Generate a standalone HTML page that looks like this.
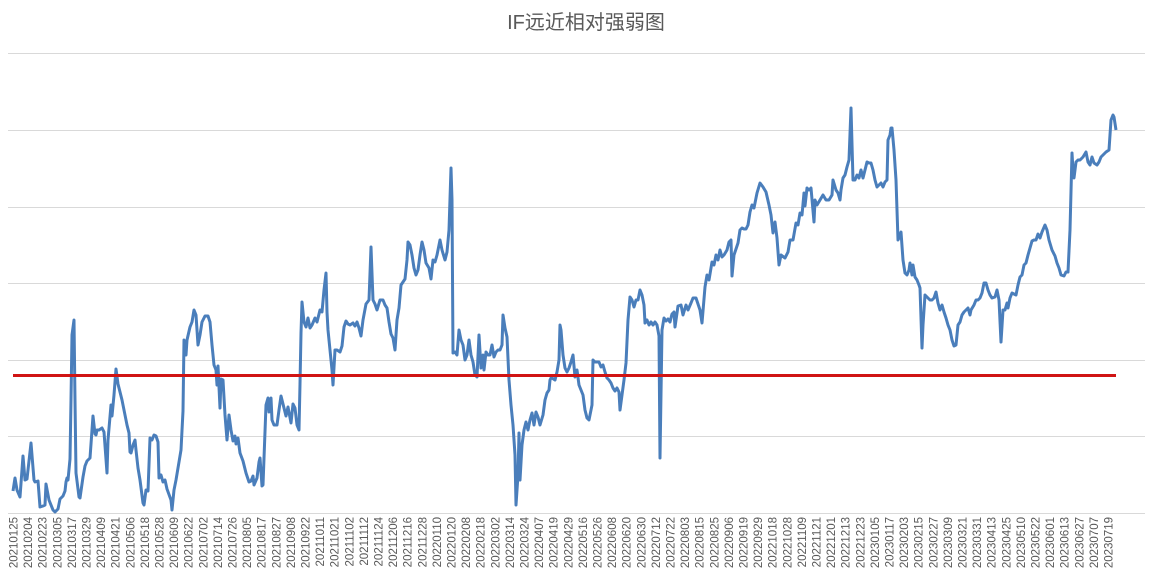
<!DOCTYPE html>
<html><head><meta charset="utf-8"><style>
html,body{margin:0;padding:0;background:#fff;}
svg{display:block;}
</style></head><body>
<svg width="1149" height="579" viewBox="0 0 1149 579" xmlns="http://www.w3.org/2000/svg">
<rect width="1149" height="579" fill="#fff"/>
<text x="586" y="29" text-anchor="middle" font-family="Liberation Sans, Noto Sans CJK SC, sans-serif" font-size="20" fill="#595959">IF远近相对强弱图</text>
<g stroke="#d9d9d9" stroke-width="1">
<line x1="8" y1="53.5" x2="1145" y2="53.5"/>
<line x1="8" y1="130.5" x2="1145" y2="130.5"/>
<line x1="8" y1="207.5" x2="1145" y2="207.5"/>
<line x1="8" y1="283.5" x2="1145" y2="283.5"/>
<line x1="8" y1="360.5" x2="1145" y2="360.5"/>
<line x1="8" y1="436.5" x2="1145" y2="436.5"/>
<line x1="8" y1="513.5" x2="1145" y2="513.5"/>
</g>
<polyline fill="none" stroke="#4a7ebb" stroke-width="3" stroke-linejoin="round" points="13,491 15,478 17,490 20,497 23,456 25,480 27,479 31,443 34,480 35,482 38,481 40,507 43,506 45,505 46,484 49,500 53,510 55,512 58,509 60,499 63,496 65,491 66,482 67,478 68,480 70,459 71,400 72,335 74,320 75,400 76,473 79,497 80,498 83,477 85,466 87,461 90,458 93,416 95,434 96,435 97,430 99,430 102,428 104,432 107,473 108,440 111,405 112,416 114,395 116,369 118,384 122,400 124,410 127,425 129,433 130,452 131,453 133,445 135,440 136,450 138,468 140,480 143,503 144,505 146,490 148,491 150,438 152,440 154,435 156,436 158,442 159,478 161,475 163,482 165,480 167,489 171,500 172,510 174,490 176,480 179,462 181,450 183,411 184,340 186,355 187,340 190,327 192,322 194,310 196,315 198,345 200,335 202,322 205,316 208,316 210,322 212,345 214,365 216,370 217,385 218,366 219,387 220,408 221,379 223,380 225,415 227,440 229,415 231,430 233,441 235,436 236,444 238,438 240,453 243,461 246,473 249,482 251,481 253,476 254,485 257,478 259,462 260,458 262,486 263,485 266,405 268,398 269,412 271,398 272,420 274,425 277,425 279,410 281,396 283,404 286,416 288,407 291,423 293,404 295,408 297,425 299,430 300,384 301,333 302,302 304,322 306,327 308,318 310,328 312,325 315,318 317,322 320,310 322,312 324,290 326,273 327,312 328,330 330,350 332,370 333,385 335,350 337,350 340,352 342,346 344,327 346,321 348,324 350,325 353,323 355,326 357,322 359,328 361,336 363,320 366,304 369,300 371,247 373,300 375,304 377,310 380,300 383,300 385,305 387,308 389,322 391,334 393,338 395,350 397,320 399,308 401,285 403,282 405,279 407,260 408,242 410,245 412,255 414,268 416,275 418,270 420,255 422,242 424,250 426,263 429,268 431,279 433,260 435,262 437,255 440,240 442,250 445,260 447,252 449,230 451,168 452,200 453,353 455,352 457,355 459,330 461,340 463,345 465,360 467,355 469,340 471,355 473,362 475,375 477,377 479,335 481,368 483,355 484,370 486,352 488,355 490,355 492,345 494,357 496,352 498,350 500,350 502,345 503,315 505,328 507,337 509,380 511,405 513,425 515,455 516,505 518,475 519,433 520,480 522,445 524,430 526,422 528,430 530,420 532,413 534,425 536,412 538,417 540,425 543,415 545,400 547,393 549,390 550,380 551,378 552,378 555,380 557,372 559,360 560,325 561,330 563,355 565,368 567,372 569,368 571,362 573,355 575,377 577,370 579,385 581,390 583,395 585,410 587,418 589,420 592,405 593,360 595,362 597,362 599,362 601,367 603,365 605,372 607,378 609,380 611,383 613,388 615,391 617,388 619,392 620,410 622,395 624,380 626,363 628,320 630,297 632,300 634,307 636,300 638,300 640,290 642,295 644,305 645,323 647,320 649,325 651,322 653,325 655,322 657,325 659,336 660,458 662,330 664,318 666,321 668,319 670,322 672,314 674,312 675,327 678,306 681,305 683,315 686,305 688,310 691,303 693,298 696,298 700,310 702,323 705,287 707,275 709,280 712,262 714,265 716,255 718,260 720,250 722,257 724,255 727,250 729,242 731,240 732,276 734,255 738,243 740,230 742,228 744,229 746,229 748,225 750,212 752,205 754,208 757,193 760,183 763,187 766,192 769,205 771,215 773,233 775,222 777,238 779,265 781,255 785,258 788,252 790,240 793,240 796,223 798,225 800,213 802,215 804,193 805,206 807,188 809,190 811,188 814,222 815,200 817,205 820,200 823,195 826,200 829,200 832,195 833,180 836,190 838,193 840,200 841,190 843,178 845,175 847,167 849,160 851,108 853,180 855,180 857,175 859,178 861,170 863,178 865,170 867,162 869,163 871,163 873,170 875,180 877,187 879,185 881,183 883,187 885,182 887,180 888,140 890,135 891,128 892,128 894,150 896,180 898,240 899,238 901,232 903,260 905,273 907,275 909,270 910,263 912,275 913,265 915,277 917,280 919,285 920,288 922,348 923,325 925,295 927,297 930,300 932,300 934,298 936,292 938,303 940,310 942,305 944,312 946,318 948,325 950,330 952,340 954,346 956,345 958,325 960,322 962,315 964,312 966,310 968,308 970,315 971,310 974,305 976,300 978,300 980,298 982,293 984,283 986,283 988,290 990,295 992,298 995,297 997,290 999,300 1001,342 1003,310 1005,310 1007,303 1008,308 1010,298 1012,293 1014,294 1016,295 1018,285 1020,277 1022,275 1024,265 1026,263 1028,255 1030,248 1032,241 1034,240 1036,240 1038,234 1040,238 1042,232 1045,225 1047,230 1049,240 1052,250 1055,256 1057,263 1059,268 1061,275 1064,276 1066,272 1068,272 1070,230 1072,153 1073,170 1074,178 1076,162 1078,160 1080,160 1083,157 1086,152 1088,162 1090,165 1092,157 1094,163 1097,165 1099,162 1101,157 1103,155 1106,152 1109,150 1111,120 1113,115 1114,117 1116,130"/>
<line x1="13" y1="375.5" x2="1116" y2="375.5" stroke="#d01414" stroke-width="3"/>
<g id="lbl" font-family="Liberation Sans, sans-serif" font-size="11.5" fill="#595959" text-anchor="end"></g>
</svg>
<script>
var d="20210125 20210204 20210223 20210305 20210317 20210329 20210409 20210421 20210506 20210518 20210528 20210609 20210622 20210702 20210714 20210726 20210805 20210817 20210827 20210908 20210922 20211011 20211021 20211102 20211112 20211124 20211206 20211216 20211228 20220110 20220120 20220208 20220218 20220302 20220314 20220324 20220407 20220419 20220429 20220516 20220526 20220608 20220620 20220630 20220712 20220722 20220803 20220815 20220825 20220906 20220919 20220929 20221018 20221028 20221109 20221121 20221201 20221213 20221223 20230105 20230117 20230203 20230215 20230227 20230309 20230321 20230331 20230413 20230425 20230510 20230522 20230601 20230613 20230627 20230707 20230719".split(" ");
var g=document.getElementById("lbl"),ns="http://www.w3.org/2000/svg";
for(var i=0;i<d.length;i++){var x=13+i*(1095/75)+4.5;var t=document.createElementNS(ns,"text");
t.setAttribute("transform","translate("+x.toFixed(1)+",517) rotate(-90)");t.textContent=d[i];g.appendChild(t);}
</script>
</body></html>
